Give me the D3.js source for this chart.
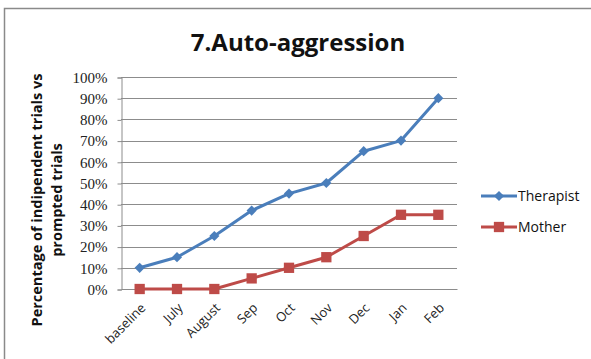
<!DOCTYPE html>
<html>
<head>
<meta charset="utf-8">
<script src="https://cdn.jsdelivr.net/npm/d3@7"></script>
<style>
  html, body { margin: 0; padding: 0; background: #fff; }
  svg { display: block; }
</style>
</head>
<body>
<svg id="chart" width="591" height="359"></svg>
<script>
const categories = ["baseline", "July", "August", "Sep", "Oct", "Nov", "Dec", "Jan", "Feb"];
const therapist = [10, 15, 25, 37, 45, 50, 65, 70, 90];
const mother = [0, 0, 0, 5, 10, 15, 25, 35, 35];
const yTicks = [0, 10, 20, 30, 40, 50, 60, 70, 80, 90, 100];
const seriesNames = ["Therapist", "Mother"];

const svg = d3.select("#chart");
const W = 591, H = 359;
const plot = { left: 121, right: 457, top: 77, bottom: 289 };
const sansFont = "'Open Sans', 'Liberation Sans', sans-serif";

// outer frame (top and left edges)
svg.append("path")
  .attr("d", `M4.5,${H} V8.5 H${W}`)
  .attr("fill", "none").attr("stroke", "#8a8a8a").attr("stroke-width", 1.5);

const x = d3.scaleBand().domain(categories).range([plot.left, plot.right]);
const y = d3.scaleLinear().domain([0, 100]).range([plot.bottom, plot.top]);
const cx = d => x(d) + x.bandwidth() / 2;

// gridlines
svg.append("g").selectAll("line").data(yTicks.filter(t => t > 0)).join("line")
  .attr("x1", plot.left).attr("x2", plot.right)
  .attr("y1", d => Math.round(y(d)) + 0.5).attr("y2", d => Math.round(y(d)) + 0.5)
  .attr("stroke", "#8c8c8c").attr("stroke-width", 1);

// y axis
const yAxis = d3.axisLeft(y).tickValues(yTicks).tickSize(4).tickFormat(d => d + "%");
const gy = svg.append("g").attr("transform", `translate(${plot.left + 0.5},0.5)`).call(yAxis);
gy.select(".domain").attr("stroke", "#8c8c8c");
gy.selectAll(".tick line").attr("stroke", "#8c8c8c");
gy.selectAll(".tick text")
  .attr("x", -14)
  .attr("font-family", "'Liberation Serif', 'DejaVu Serif', serif")
  .attr("font-size", 15).attr("fill", "#222");

// x axis
const xAxis = d3.axisBottom(x).tickSize(0).tickFormat(d => d);
const gx = svg.append("g").attr("transform", `translate(0.5,${plot.bottom + 0.5})`).call(xAxis);
gx.select(".domain").attr("stroke", "#8c8c8c").attr("d", `M${plot.left},0H${plot.right}`);
gx.selectAll(".tick text")
  .attr("font-family", sansFont).attr("font-size", 13).attr("fill", "#222")
  .attr("text-anchor", "end")
  .attr("transform", "translate(3,16) rotate(-45)")
  .attr("dy", "0.35em").attr("y", 0);

// series
const series = [
  { name: seriesNames[0], values: therapist, color: "#4a7ebb", marker: "diamond" },
  { name: seriesNames[1], values: mother, color: "#be4b48", marker: "square" }
];
const line = d3.line().x((d, i) => cx(categories[i])).y(d => y(d));
const markerPath = (type) => type === "diamond"
  ? d3.symbol(d3.symbolDiamond2, 66)()
  : d3.symbol(d3.symbolSquare2, 135)();

series.forEach(s => {
  svg.append("path").datum(s.values)
    .attr("d", line).attr("fill", "none")
    .attr("stroke", s.color).attr("stroke-width", 3).attr("stroke-linejoin", "round");
  svg.append("g").selectAll("path").data(s.values).join("path")
    .attr("transform", (d, i) => `translate(${cx(categories[i])},${y(d)})`)
    .attr("d", markerPath(s.marker))
    .attr("fill", s.color);
});

// title
svg.append("text")
  .attr("x", 298).attr("y", 51).attr("text-anchor", "middle")
  .attr("font-family", sansFont).attr("font-weight", "bold").attr("font-size", 24)
  .attr("fill", "#111").text("7.Auto-aggression");

// y axis title
const yt = svg.append("text")
  .attr("transform", "translate(42,200) rotate(-90)")
  .attr("text-anchor", "middle")
  .attr("font-family", sansFont).attr("font-weight", "bold").attr("font-size", 14.5)
  .attr("fill", "#111");
yt.append("tspan").attr("x", 0).attr("y", 0).text("Percentage of indipendent trials vs");
yt.append("tspan").attr("x", 0).attr("y", 20).text("prompted trials");

// legend
const legend = svg.append("g");
series.forEach((s, i) => {
  const ly = 196 + i * 31;
  legend.append("line").attr("x1", 481).attr("x2", 517).attr("y1", ly).attr("y2", ly)
    .attr("stroke", s.color).attr("stroke-width", 3);
  legend.append("path").attr("transform", `translate(499,${ly})`)
    .attr("d", markerPath(s.marker)).attr("fill", s.color);
  legend.append("text").attr("x", 518).attr("y", ly).attr("dy", "0.35em")
    .attr("font-family", sansFont).attr("font-size", 14).attr("fill", "#111")
    .text(s.name);
});
</script>
</body>
</html>
